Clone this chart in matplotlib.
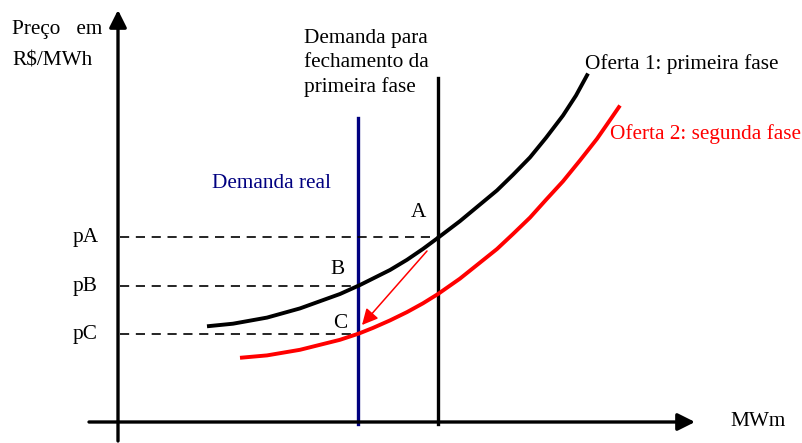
import matplotlib.pyplot as plt

plt.rcParams['font.family'] = ['Liberation Serif', 'DejaVu Serif']

# schematic coordinates (x to the right, y downwards)
oferta1_x = [207, 233, 267, 300, 340, 360, 390, 407, 423, 438, 460, 497, 513, 530,
             546, 563, 576, 588]
oferta1_y = [326.3, 323.7, 317.6, 308.4, 294, 285, 270, 259.8, 248.9, 237.8,
             221.1, 190.4, 174.8, 157.4, 137.8, 115.5, 95.5, 73.5]
oferta2_x = [240, 267, 300, 340, 359, 373, 390, 407, 423, 438, 460, 497, 513, 530,
             546, 563, 580, 597, 609, 620]
oferta2_y = [357.8, 355.4, 349.8, 339.8, 333.5, 327.9, 320.4, 312.1, 303.3, 294,
             278.6, 249, 234, 217.6, 199.8, 181.3, 160.4, 138.8, 121.5, 105.5]

q_real, q_fech = 358, 438
demanda_real_top, demanda_fech_top = 118, 78
eixo_x0, eixo_y0 = 118, 422
precos = {'pA': (237, q_fech), 'pB': (286, q_real), 'pC': (334, q_real)}
pontos = {'A': (418, 212), 'B': (337, 269), 'C': (340, 324)}
seta_de, seta_para = (427, 251), (362, 325)

fig = plt.figure(figsize=(8.03, 4.43), dpi=100)
ax = fig.add_axes([0, 0, 1, 1])
ax.set_xlim(0, 803)
ax.set_ylim(443, 0)
ax.axis('off')

fs = 15.3

# axes with arrow heads
ax.annotate('', xy=(eixo_x0, 10), xytext=(eixo_x0, 441),
            arrowprops=dict(arrowstyle='-|>', lw=2.4, color='black',
                            mutation_scale=26, shrinkA=0, shrinkB=0))
ax.annotate('', xy=(695, eixo_y0), xytext=(89, eixo_y0),
            arrowprops=dict(arrowstyle='-|>', lw=2.4, color='black',
                            mutation_scale=26, shrinkA=0, shrinkB=0))

# demand lines
ax.plot([q_real, q_real], [demanda_real_top, eixo_y0 + 2], color='#000080', lw=2.4)
ax.plot([q_fech, q_fech], [demanda_fech_top, eixo_y0 + 2], color='black', lw=2.4)

# price levels
for nome, (p, q) in precos.items():
    ax.plot([eixo_x0 + 2, q], [p, p], color='black', lw=1.2, dashes=(5.5, 4))
    ax.text(73, p, nome, fontsize=fs, ha='left', va='center')

# supply curves
ax.plot(oferta1_x, oferta1_y, color='black', lw=2.8,
        solid_capstyle='butt', solid_joinstyle='round')
ax.plot(oferta2_x, oferta2_y, color='red', lw=2.8,
        solid_capstyle='butt', solid_joinstyle='round')

# shift arrow
ax.annotate('', xy=seta_para, xytext=seta_de,
            arrowprops=dict(arrowstyle='-|>', lw=1.1, color='red',
                            mutation_scale=24, shrinkA=0, shrinkB=0))

for nome, (x, y) in pontos.items():
    ax.text(x, y, nome, fontsize=fs, ha='center', va='center')

ax.text(12, 29, 'Preço   em', fontsize=fs, ha='left', va='center')
ax.text(12, 61, 'R$/MWh', fontsize=fs, ha='left', va='center')
for i, linha in enumerate(['Demanda para', 'fechamento da', 'primeira fase']):
    ax.text(304, 38 + 24.5 * i, linha, fontsize=fs, ha='left', va='center')
ax.text(212, 184, 'Demanda real', fontsize=fs, color='#000080',
        ha='left', va='center')
ax.text(585, 64, 'Oferta 1: primeira fase', fontsize=fs, ha='left', va='center')
ax.text(610, 134, 'Oferta 2: segunda fase', fontsize=fs, color='red',
        ha='left', va='center')
ax.text(730, 422, 'MWm', fontsize=fs, ha='left', va='center')

fig.savefig('out.png', dpi=100)
